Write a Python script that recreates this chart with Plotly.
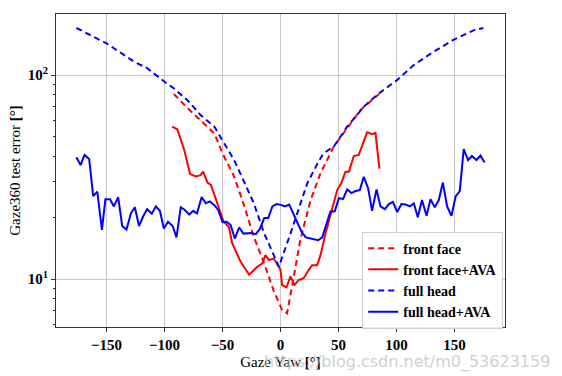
import plotly.graph_objects as go

# ---- data ----
ff_x = [-92, -80, -69, -57, -50, -40, -32, -23, -14, -6, 1.4, 5.7, 11.5, 17, 26, 34.5, 46, 57.5, 69, 85]
ff_y = [80.7, 68.7, 60, 51.7, 41.3, 31.8, 23.5, 16.1, 11.9, 8.8, 7.05, 6.8, 10.3, 15.5, 24.4, 33, 44.6, 54.8, 67.4, 80.7]

ffava_x = [-93.4, -89, -83, -78, -73, -69, -66.7, -63, -60, -54.6, -49, -44.5, -41.7, -34.5, -27, -20, -15.8, -13, -10,
           -5.7, -2.9, 0, 1.4, 5.2, 8.6, 12, 15.8, 20, 24.4, 27.3, 31.6, 34.5, 38.8, 43, 48.9, 52.3, 56, 59, 63.2,
           67.5, 70.4, 74.7, 79, 81.9, 85.3]
ffava_y = [55.8, 54.2, 42.9, 32.7, 31.8, 32.3, 33.6, 29.7, 28.9, 23.5, 19.1, 18, 15, 12.2, 10.5, 11.5, 11.9, 13.1, 12.4,
           12.6, 11.9, 11.1, 9.35, 9.1, 10.3, 9.35, 9.9, 10.1, 11.1, 11.7, 11.7, 13.1, 16.7, 20.6, 27.3, 29.4, 33.6, 33.6, 40.1,
           40.6, 45.4, 52.4, 51.3, 52, 34.8]

fh_x = [-176, -150, -126, -115, -100, -92, -80, -69, -57, -50, -40, -32, -23, -14, -1.4, 8.6, 23, 32, 37, 46, 57.5,
        72, 83, 100.6, 115, 132, 149, 167, 175]
fh_y = [170, 143, 116, 108, 92.7, 86, 75, 63.7, 55.8, 48, 38.3, 30.5, 23.5, 16.7, 11.5, 16.7, 29.4, 36.9, 41.3, 44.6, 55.8,
        70, 79.8, 94.5, 112, 130, 148.5, 166, 170]

fhava_x = [-176, -172.4, -169, -165, -161.5, -158, -154, -151, -147, -143.7, -140, -136.5, -132.8, -129, -125.6, -122,
           -118.4, -115, -111, -107.5, -104, -100.6, -97, -93, -89.7, -86, -82.5, -78.7, -75.3, -72, -68, -64.4, -61,
           -57, -53.7, -50, -46.5, -43, -39.4, -35.6, -32, -28.4, -25, -21.3, -17.8, -14, -10.6, -7, -3.4, 0.3, 3.7,
           7.5, 11, 14.6, 18, 21.8, 25.3, 29, 32.5, 36, 39.7, 43, 46.8, 50.3, 54, 57.5, 61.2, 64.7, 68.4, 71.8, 75.6,
           79, 82.8, 86.2, 90, 93.4, 97, 100.6, 104.3, 107.8, 111.5, 115, 118.4, 122, 126, 129.3, 133, 136.5, 140,
           143.7, 147.4, 151, 154.6, 158, 161.8, 165, 169, 172.4, 176]
fhava_y = [39.5, 36.2, 40.6, 38.8, 25.5, 26.8, 17.4, 24.6, 24.6, 22.7, 25.2, 18.2, 17.5, 21, 22.5, 18.2,
           20.3, 22, 20.9, 22.7, 21.6, 17.7, 19.1, 18.2, 16, 22.5, 21.8, 20.7, 21.6, 21, 25.2, 23.5, 24,
           23, 21.8, 19, 19.1, 18.4, 15.8, 17.9, 16.7, 16.8, 16.8, 16.6, 17.6, 19.9, 19.9, 22.7, 23.3, 23.1, 22.7,
           23.2, 21, 18.9, 17.1, 16, 15.8, 15.6, 15.5, 16, 18.6, 21.4, 21.5, 24.9, 24.7, 27.5, 26.4, 27, 27.3, 31.7, 27.8,
           21.6, 27.5, 22.7, 22, 23.3, 23.9, 21.3, 23.3, 23.2, 22.7, 23.5, 20.1, 24.4, 20.4, 24.6, 22.5, 24.4, 29.7,
           22.7, 20.4, 25.4, 27, 43.3, 38.3, 40.1, 38.3, 40.3, 37.3]

x_ticks = [-150, -100, -50, 0, 50, 100, 150]
y_ticks = [10, 100]
y_ticktext = ["10<sup>1</sup>", "10<sup>2</sup>"]
y_minor = [6, 7, 8, 9, 20, 30, 40, 50, 60, 70, 80, 90, 200]

RED = "#ff0000"
BLUE = "#0000ff"
DASH = "6px,4px"

fig = go.Figure()
fig.add_trace(go.Scatter(x=ff_x, y=ff_y, mode="lines", name="<b>front face</b>",
                         line=dict(color=RED, width=2, dash=DASH)))
fig.add_trace(go.Scatter(x=ffava_x, y=ffava_y, mode="lines", name="<b>front face+AVA</b>",
                         line=dict(color=RED, width=2)))
fig.add_trace(go.Scatter(x=fh_x, y=fh_y, mode="lines", name="<b>full head</b>",
                         line=dict(color=BLUE, width=2, dash=DASH)))
fig.add_trace(go.Scatter(x=fhava_x, y=fhava_y, mode="lines", name="<b>full head+AVA</b>",
                         line=dict(color=BLUE, width=2)))

font_serif = "Liberation Serif, Times New Roman, serif"

fig.update_layout(
    width=562, height=376,
    margin=dict(l=56, r=57, t=14, b=49, autoexpand=False),
    paper_bgcolor="white", plot_bgcolor="white",
    font=dict(family=font_serif, color="black", size=14),
    showlegend=True,
    legend=dict(x=0.682, y=0.305, xanchor="left", yanchor="top",
                bgcolor="rgba(255,255,255,0.9)", bordercolor="#d0d0d0", borderwidth=1,
                font=dict(family=font_serif, size=14, color="black"),
                itemwidth=30, tracegroupgap=0),
    xaxis=dict(range=[-193.6, 193.6], tickvals=x_ticks,
               ticktext=[f"<b>{'−' + str(-v) if v < 0 else v}</b>" for v in x_ticks],
               showgrid=True, gridcolor="#c8c8c8", gridwidth=1, zeroline=False,
               showline=True, linecolor="#333333", linewidth=1.2, mirror=True,
               ticks="outside", ticklen=4, tickcolor="#333333", automargin=False,
               tickfont=dict(size=15, family=font_serif),
               title=dict(text="Gaze Yaw <b>[°]</b>", font=dict(size=15, family=font_serif), standoff=4)),
    yaxis=dict(type="log", range=[0.765, 2.299], tickvals=y_ticks, ticktext=[f"<b>{t}</b>" for t in y_ticktext],
               showgrid=True, gridcolor="#c8c8c8", gridwidth=1, zeroline=False,
               showline=True, linecolor="#333333", linewidth=1.2, mirror=True,
               ticks="outside", ticklen=4, tickcolor="#333333", automargin=False,
               tickfont=dict(size=15, family=font_serif),
               minor=dict(tickvals=y_minor, ticks="outside", ticklen=2, tickcolor="#333333", showgrid=False),
               title=dict(text="Gaze360 test error <b>[°]</b>", font=dict(size=15, family=font_serif), standoff=3)),
)

fig.add_annotation(text="https://blog.csdn.net/m0_53623159", xref="paper", yref="paper",
                   x=1.105, y=-0.075, xanchor="right", yanchor="top", showarrow=False,
                   font=dict(family="DejaVu Sans, sans-serif", size=16, color="rgba(195,195,195,0.8)"))

fig.write_html("out.html", config={"displayModeBar": False},
               post_script="document.body.style.margin='0';document.body.style.padding='0';")
